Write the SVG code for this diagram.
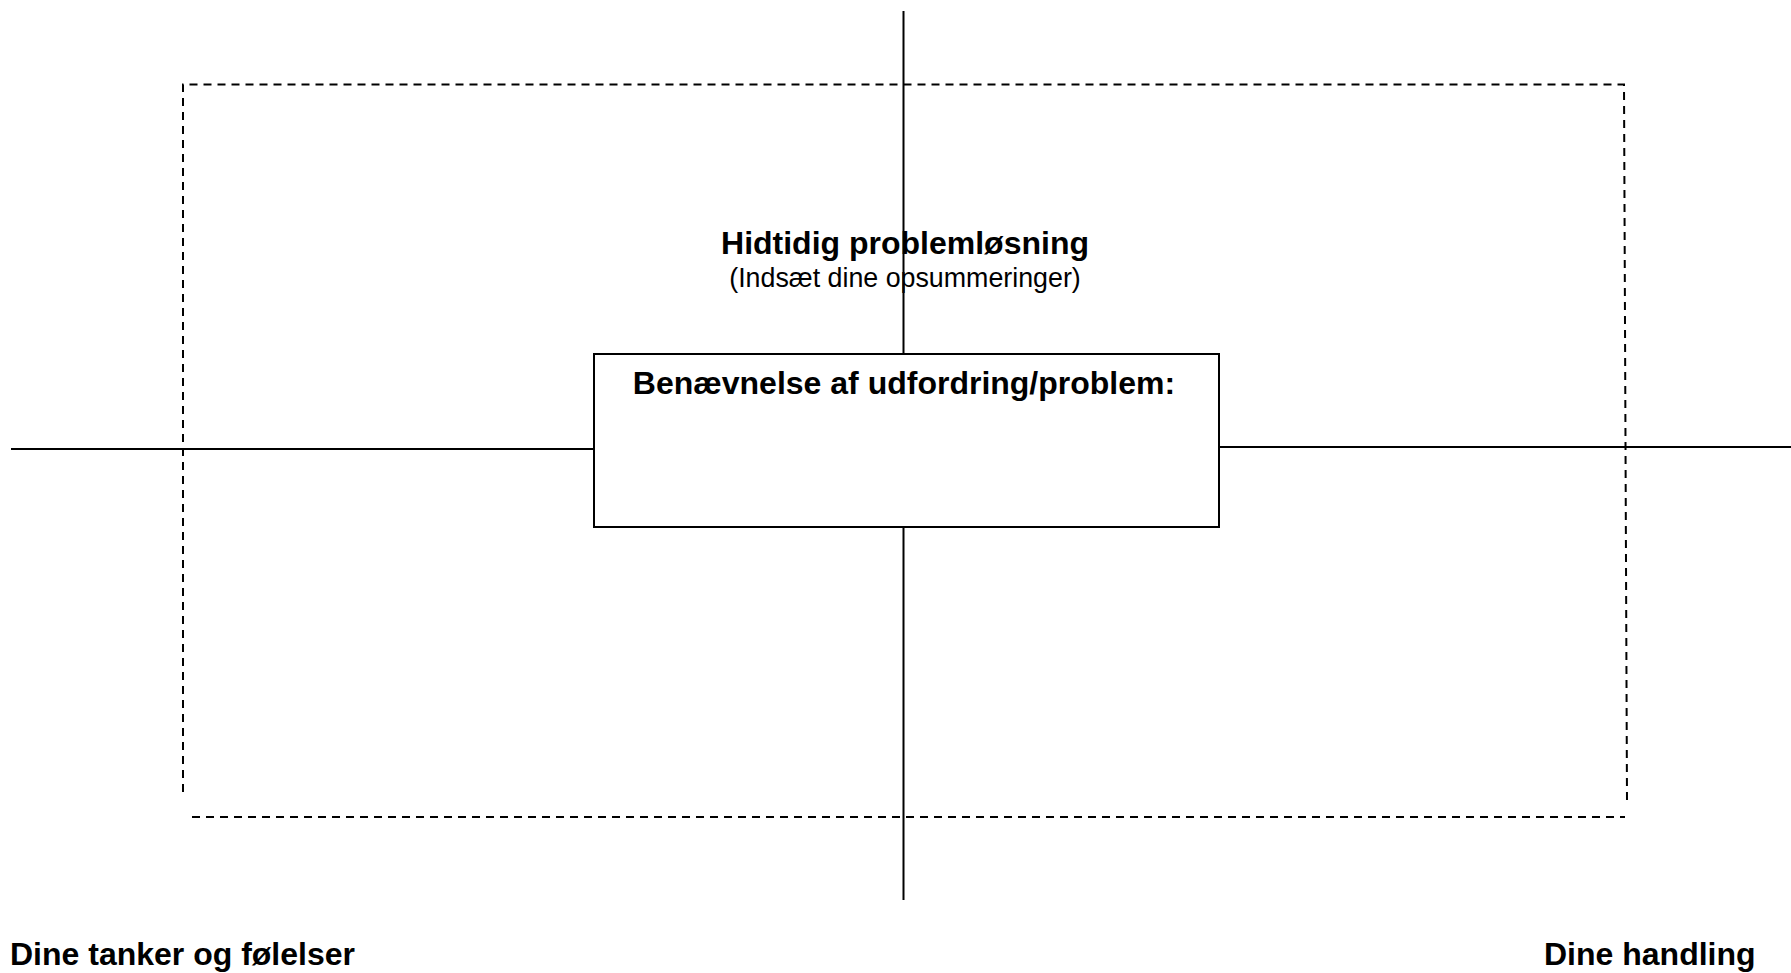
<svg xmlns="http://www.w3.org/2000/svg" width="1791" height="973" viewBox="0 0 1791 973">
<style>
.solid{stroke:#000;stroke-width:2;fill:none}
.dash{stroke:#000;stroke-width:2;fill:none;stroke-dasharray:8 6}
.b{font-family:"Liberation Sans",Arial,sans-serif;font-weight:bold;font-size:32px;fill:#000}
.r{font-family:"Liberation Sans",Arial,sans-serif;font-size:26.8px;fill:#000}
</style>
<rect width="1791" height="973" fill="#fff"/>
<g id="frame">
<polyline class="dash" points="183,792 183,84.5 1624,84.5 1627,801"/>
<line class="dash" x1="192" y1="817" x2="1625" y2="817"/>
</g>
<g id="connectors">
<line class="solid" x1="903.5" y1="11" x2="903.5" y2="354"/>
<line class="solid" x1="903.5" y1="527" x2="903.5" y2="900"/>
<line class="solid" x1="11" y1="449" x2="594" y2="449"/>
<line class="solid" x1="1219" y1="447" x2="1791" y2="447"/>
</g>
<g id="title">
<text class="b" x="905" y="253.5" text-anchor="middle">Hidtidig problemløsning</text>
<text class="r" x="905" y="287" text-anchor="middle">(Indsæt dine opsummeringer)</text>
</g>
<g id="problem">
<rect x="594" y="354" width="625" height="173" fill="#fff" stroke="#000" stroke-width="2"/>
<text class="b" x="904" y="394" text-anchor="middle">Benævnelse af udfordring/problem:</text>
</g>
<g id="left-label">
<text class="b" x="10" y="965">Dine tanker og følelser</text>
</g>
<g id="right-label">
<text class="b" x="1544" y="965">Dine handling</text>
</g>
</svg>
